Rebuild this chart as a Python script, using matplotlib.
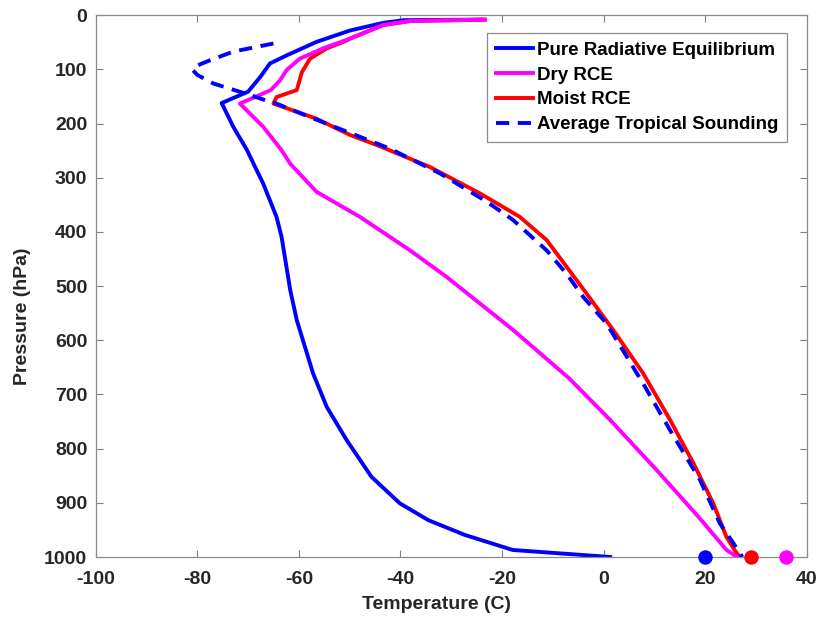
import matplotlib
matplotlib.use("Agg")
import matplotlib.pyplot as plt

plt.rcParams['font.family'] = ['Liberation Sans', 'DejaVu Sans']
plt.rcParams['axes.unicode_minus'] = False

# Pure Radiative Equilibrium (pressure hPa, temperature C)
p_rad = [8, 9, 14, 28, 49, 74, 89, 114, 141, 162, 206, 249, 286, 311, 372, 409,
         507, 563, 661, 723, 784, 852, 901, 932, 959, 987, 1000]
t_rad = [-24.0, -39.4, -43.4, -49.9, -56.5, -62.4, -65.7, -67.6, -70.0, -75.2, -72.9,
         -70.2, -68.3, -67.0, -64.4, -63.4, -61.7, -60.4, -57.2, -54.5, -50.6, -45.7,
         -40.1, -34.5, -27.4, -17.9, 1.3]

# Dry RCE
p_dry = [8, 10.5, 18, 43, 61, 80, 101, 120, 138, 163, 206, 249, 274, 326, 372, 434,
         483, 581, 670, 747, 840, 926, 987, 1000]
t_dry = [-23.4, -38.1, -43.4, -49.9, -55.2, -59.8, -62.4, -63.7, -65.5, -71.6, -67.0,
         -63.4, -61.7, -56.5, -48.0, -38.1, -30.9, -17.8, -6.8, 1.3, 10.5, 18.7, 24.2, 26.3]

# Moist RCE
p_moist = [8, 10.5, 18, 43, 49, 61, 80, 105, 138, 151, 163, 191, 221, 240, 280, 329,
           372, 415, 464, 513, 581, 661, 747, 827, 901, 963, 993, 1000]
t_moist = [-23.4, -38.1, -43.4, -49.9, -51.2, -54.5, -57.8, -59.4, -60.4, -64.4, -65.0,
           -56.5, -49.9, -44.5, -34.2, -24.3, -16.5, -11.2, -7.3, -3.4, 1.9, 7.8, 13.1,
           17.7, 21.6, 24.2, 26.2, 26.9]

# Average Tropical Sounding
p_obs = [52, 67, 83, 95, 101, 110, 126, 145, 154, 163, 191, 246, 292, 344, 378, 434,
         477, 520, 569, 680, 766, 858, 938, 993, 1000]
t_obs = [-65.0, -72.9, -77.5, -80.6, -80.9, -80.0, -76.8, -70.3, -67.5, -64.4, -57.0,
         -42.1, -32.2, -23.0, -17.8, -11.2, -7.3, -4.0, 0.6, 7.8, 13.1, 19.0, 22.9,
         26.9, 27.3]

# Surface temperatures (markers)
sfc_t = [20, 29, 36]
sfc_p = [1000, 1000, 1000]
sfc_colors = ['#0000ff', '#ff0000', '#ff00ff']

labels = ['Pure Radiative Equilibrium', 'Dry RCE', 'Moist RCE', 'Average Tropical Sounding']
xticks = list(range(-100, 41, 20))
yticks = list(range(0, 1001, 100))

W, H = 820, 623
fig = plt.figure(figsize=(W / 100, H / 100), dpi=100)
ax = fig.add_axes([95.7 / W, 1 - 557 / H, (806.7 - 95.7) / W, (557 - 15.3) / H])

lw = 2.8
l1, = ax.plot(t_rad, p_rad, color='#0000ff', lw=lw, zorder=2, label=labels[0])
l2, = ax.plot(t_dry, p_dry, color='#ff00ff', lw=lw, zorder=3, label=labels[1])
l3, = ax.plot(t_moist, p_moist, color='#ff0000', lw=lw, zorder=2.5, label=labels[2])
l4, = ax.plot(t_obs, p_obs, color='#0000ff', lw=lw, zorder=4, dashes=(3.4, 2.2),
              label=labels[3])
for t, p, c in zip(sfc_t, sfc_p, sfc_colors):
    ax.plot([t], [p], 'o', color=c, markersize=9.4, clip_on=False, zorder=5)

ax.set_xlim(-100, 40)
ax.set_ylim(1000, 0)
ax.set_xticks(xticks)
ax.set_yticks(yticks)

tc = '#262626'
ax.tick_params(axis='both', direction='in', length=4.8, width=0.8, color='#808080',
               top=True, right=True, labelsize=14, labelcolor=tc)
ax.tick_params(axis='x', pad=10)
ax.tick_params(axis='y', pad=6)
for lab in ax.get_xticklabels() + ax.get_yticklabels():
    lab.set_fontweight('bold')
for s in ax.spines.values():
    s.set_color('#8c8c8c')
    s.set_linewidth(0.9)

ax.set_xlabel('Temperature (C)', fontsize=14, fontweight='bold', color=tc)
ax.set_ylabel('Pressure (hPa)', fontsize=14, fontweight='bold', color=tc)
ax.xaxis.set_label_coords(0.48, -0.072)
ax.yaxis.set_label_coords(-0.091, 0.445)

leg = ax.legend(handles=[l1, l2, l3, l4], loc='upper right',
                bbox_to_anchor=(786.7 / W, 1 - 33.3 / H), bbox_transform=fig.transFigure,
                borderaxespad=0, prop={'weight': 'bold', 'size': 13.5},
                handlelength=2.0, handletextpad=0.2, labelspacing=0.41,
                borderpad=0.45, fancybox=False, framealpha=1, edgecolor='#8c8c8c')
leg.get_frame().set_linewidth(0.9)
for t in leg.get_texts():
    t.set_color('#000000')

fig.savefig('out.png', dpi=100)
